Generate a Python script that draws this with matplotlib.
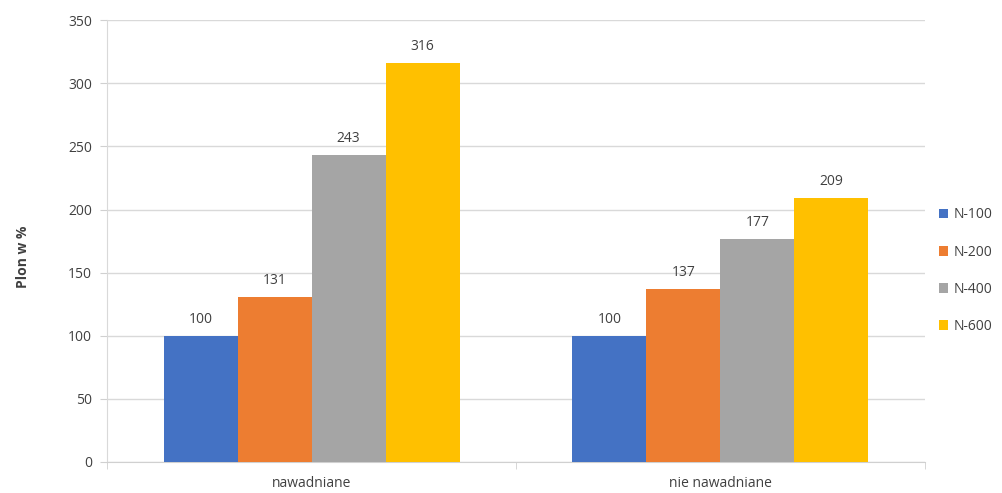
import matplotlib
matplotlib.use("Agg")
import matplotlib.pyplot as plt
import numpy as np

categories = ["nawadniane", "nie nawadniane"]
series_names = ["N-100", "N-200", "N-400", "N-600"]
n100 = [100, 100]
n200 = [131, 137]
n400 = [243, 177]
n600 = [316, 209]
colors = ["#4472C4", "#ED7D31", "#A5A5A5", "#FFC000"]

plt.rcParams['font.family'] = ['Open Sans', 'DejaVu Sans']
text_color = "#404040"

fig = plt.figure(figsize=(10.02, 4.93), dpi=100)
ax = fig.add_axes([0.107, 0.063, 0.816, 0.896])

values = [n100, n200, n400, n600]
x = np.arange(len(categories))
bw = 0.181
for i, (name, vals, c) in enumerate(zip(series_names, values, colors)):
    pos = x + (i - 1.5) * bw
    ax.bar(pos, vals, width=bw, color=c, label=name, zorder=3)
    for p, v in zip(pos, vals):
        ax.text(p, v + 7, str(v), ha="center", va="bottom", fontsize=10, color=text_color)

ax.set_xlim(-0.5, 1.5)
ax.set_ylim(0, 350)
ax.set_yticks(np.arange(0, 351, 50))
ax.set_xticks(x)
ax.set_xticklabels(categories)
ax.set_xticks([-0.5, 0.5, 1.5], minor=True)
ax.tick_params(axis='x', which='major', length=0, pad=10, labelsize=10, labelcolor=text_color)
ax.tick_params(axis='x', which='minor', length=5, color="#D0D0D0")
ax.tick_params(axis='y', length=5, color="#D0D0D0", labelsize=10, labelcolor=text_color, pad=6)
ax.yaxis.grid(True, color="#D9D9D9", linewidth=1, zorder=0)
for s in ["top", "right"]:
    ax.spines[s].set_visible(False)
ax.spines["left"].set_color("#D9D9D9")
ax.spines["bottom"].set_color("#D0D0D0")
ax.set_ylabel("Plon w %", fontsize=10, fontweight="bold", color=text_color)
ax.yaxis.set_label_coords(-0.095, 0.464)

leg = ax.legend(loc="center left", bbox_to_anchor=(1.0, 0.433), frameon=False,
                fontsize=10, handlelength=0.7, handleheight=0.7, handletextpad=0.4,
                labelspacing=1.6, borderaxespad=0.6)
for t in leg.get_texts():
    t.set_color(text_color)

fig.savefig("out.png", dpi=100, facecolor="white")
